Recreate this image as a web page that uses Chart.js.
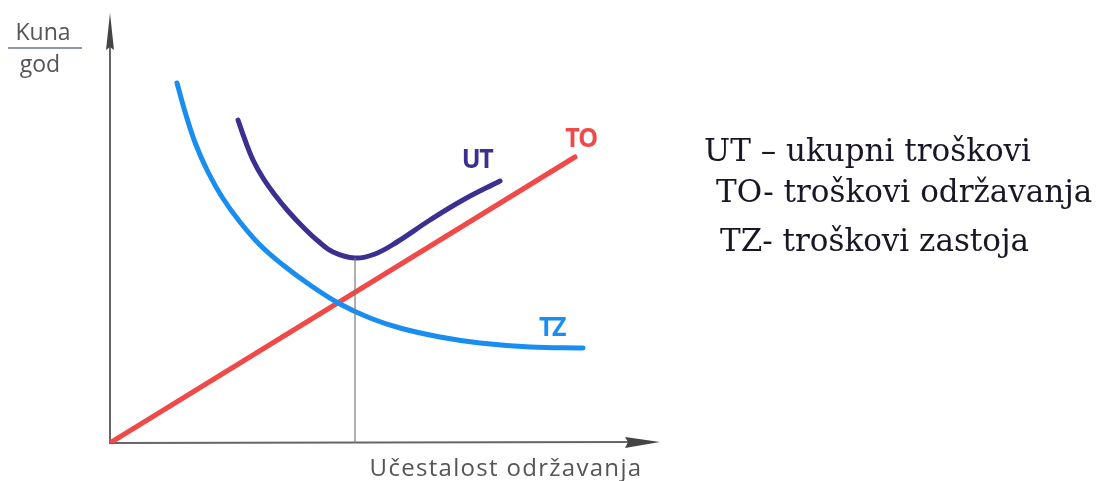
<!DOCTYPE html>
<html>
<head>
<meta charset="utf-8">
<script src="https://cdn.jsdelivr.net/npm/chart.js@4"></script>
<style>
  body { margin: 0; background: #fff; }
  #wrap { position: relative; width: 1100px; height: 481px; }
  .lbl { position: absolute; white-space: nowrap; transform: translate(-50%, -50%); line-height: 1; }
  .curve { font-family: "Open Sans", sans-serif; font-weight: 700; font-size: 25px; letter-spacing: -1.5px; transform: translate(-50%, -50%) scaleY(1.08); }
  .axis { font-family: "Open Sans", sans-serif; color: #555; }
  .legend { position: absolute; font-family: "DejaVu Serif", serif; font-size: 31px; color: #1a1626; white-space: nowrap; line-height: 1; transform: translateY(-50%); }
</style>
</head>
<body>
<div id="wrap">
  <canvas id="chart" width="1100" height="481"></canvas>

  <div class="lbl axis" style="left:43px;top:31px;font-size:23px;">Kuna</div>
  <div style="position:absolute;left:8px;top:47px;width:74px;height:2px;background:#8f94b8;"></div>
  <div class="lbl axis" style="left:40px;top:63px;font-size:23px;">god</div>
  <div class="lbl axis" style="left:506px;top:467px;font-size:24px;letter-spacing:1.3px;">Učestalost održavanja</div>

  <div class="lbl curve" style="left:477px;top:158px;color:#3b2f92;">UT</div>
  <div class="lbl curve" style="left:581px;top:137px;color:#f04a48;">TO</div>
  <div class="lbl curve" style="left:552px;top:326px;color:#1a8ef0;">TZ</div>

  <div class="legend" style="left:704px;top:150px;">UT – ukupni troškovi</div>
  <div class="legend" style="left:716px;top:191px;">TO- troškovi održavanja</div>
  <div class="legend" style="left:720px;top:240px;">TZ- troškovi zastoja</div>
</div>
<script>
// vrijednosti ocitane sa slike (x = ucestalost, y = kuna/god)
const toX = [0, 465];
const toY = [0, 286];

const tzX = [67, 76, 86, 98, 112, 130, 150, 173, 200, 230, 260, 290, 330, 370, 420, 473];
const tzY = [360, 328, 298, 271, 246, 221, 198, 178, 158, 139, 125, 115, 106, 100, 96, 95];

const utX = [128, 135, 143, 153, 165, 178, 193, 208, 223, 245, 265, 287, 320, 353, 390];
const utY = [323, 303, 283, 265, 248, 232, 216, 202, 191, 185, 189, 201, 223, 243, 262];

// optimum - okomita linija do minimuma UT
const optX = [245, 245];
const optY = [0, 185];

const xMax = 550, yMax = 430;

const toPoints = (xs, ys) => xs.map((x, i) => ({ x, y: ys[i] }));

// osi sa strelicama
const axesPlugin = {
  id: 'axes',
  beforeDatasetsDraw(chart) {
    const { ctx, chartArea: a } = chart;
    ctx.save();
    ctx.strokeStyle = '#666';
    ctx.fillStyle = '#444';
    ctx.lineWidth = 2;
    // y os
    ctx.beginPath();
    ctx.moveTo(a.left, a.bottom + 1);
    ctx.lineTo(a.left, a.top + 30);
    ctx.stroke();
    ctx.beginPath();
    ctx.moveTo(a.left, a.top);
    ctx.lineTo(a.left + 4, a.top + 37);
    ctx.lineTo(a.left, a.top + 34);
    ctx.lineTo(a.left - 4, a.top + 37);
    ctx.closePath();
    ctx.fill();
    // x os
    ctx.beginPath();
    ctx.moveTo(a.left, a.bottom);
    ctx.lineTo(a.right - 30, a.bottom - 1);
    ctx.stroke();
    ctx.beginPath();
    ctx.moveTo(a.right, a.bottom - 1);
    ctx.lineTo(a.right - 35, a.bottom - 6);
    ctx.lineTo(a.right - 32, a.bottom - 1);
    ctx.lineTo(a.right - 35, a.bottom + 5);
    ctx.closePath();
    ctx.fill();
    ctx.restore();
  }
};

document.addEventListener('DOMContentLoaded', () => {
  const ctx = document.getElementById('chart');
  new Chart(ctx, {
    type: 'line',
    data: {
      datasets: [
        {
          label: 'opt',
          data: toPoints(optX, optY),
          borderColor: '#7a7a7a',
          borderWidth: 1.2,
          pointRadius: 0
        },
        {
          label: 'TZ',
          data: toPoints(tzX, tzY),
          borderColor: '#1a8ef0',
          borderWidth: 5,
          tension: 0.4,
          borderCapStyle: 'round',
          pointRadius: 0
        },
        {
          label: 'TO',
          data: toPoints(toX, toY),
          borderColor: '#f04a48',
          borderWidth: 5,
          borderCapStyle: 'round',
          pointRadius: 0
        },
        {
          label: 'UT',
          data: toPoints(utX, utY),
          borderColor: '#3b2f92',
          borderWidth: 5,
          tension: 0.4,
          borderCapStyle: 'round',
          pointRadius: 0
        }
      ]
    },
    options: {
      responsive: false,
      animation: false,
      layout: { padding: { left: 110, right: 440, top: 13, bottom: 38 } },
      scales: {
        x: { type: 'linear', min: 0, max: xMax, display: false },
        y: { type: 'linear', min: 0, max: yMax, display: false }
      },
      plugins: {
        legend: { display: false },
        tooltip: { enabled: false }
      }
    },
    plugins: [axesPlugin]
  });
});
</script>
</body>
</html>
